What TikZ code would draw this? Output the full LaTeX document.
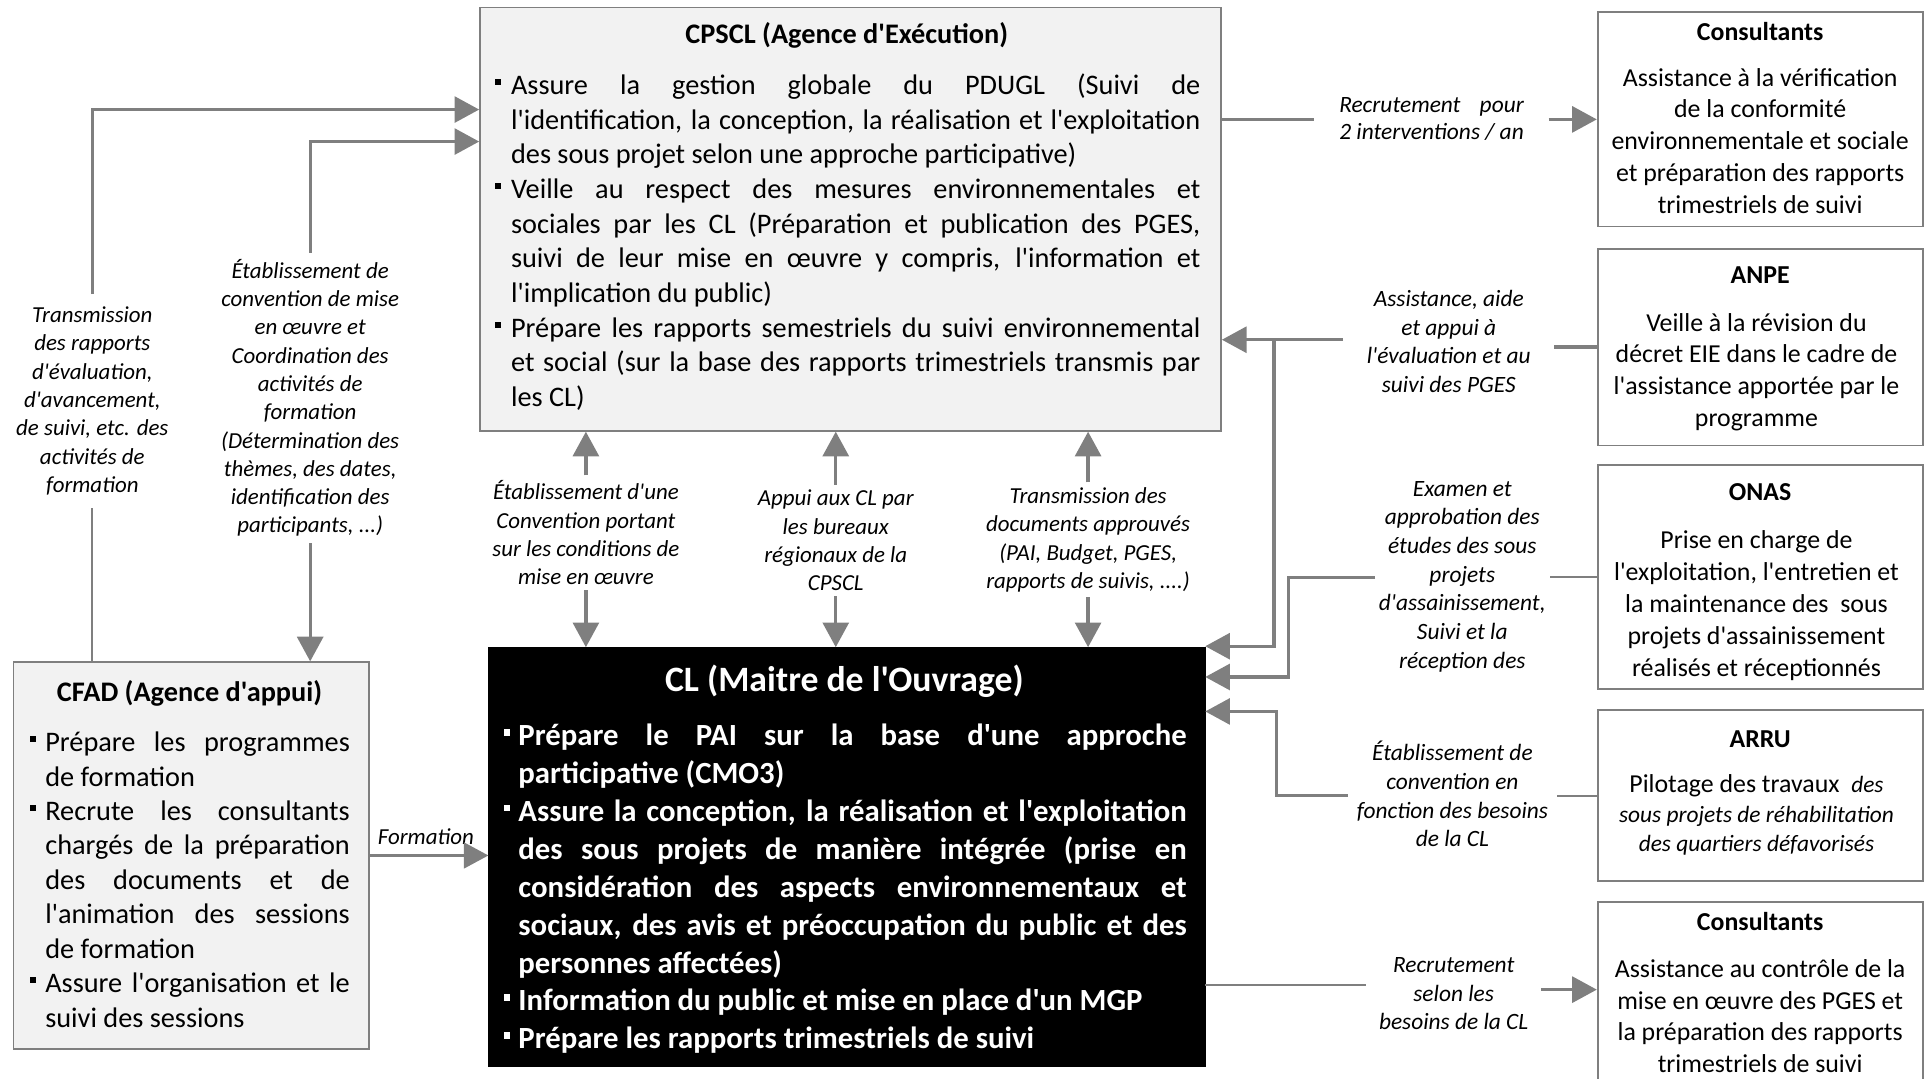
\documentclass[tikz,border=0pt]{standalone}
\usepackage{fontspec}
\setmainfont{Carlito}[Ligatures=TeXOff]
\usetikzlibrary{arrows.meta}
\definecolor{lc}{RGB}{127,127,127}
\definecolor{bx}{RGB}{242,242,242}
\definecolor{bd}{RGB}{127,127,127}
\newlength\rlen
\newcommand\bsq[1]{\rule[0.33em]{#1}{#1}}
\newcommand\bitem[2]{\noindent\hangindent=#1\hangafter=1\makebox[#1][l]{\bsq{0.22em}}#2\par}
\newcommand\jpar{\tolerance=10000\hyphenpenalty=10000\exhyphenpenalty=10000}
\tikzset{
  box/.style={draw=bd, line width=1.4pt, inner sep=0pt},
  gbox/.style={box, fill=bx},
  wbox/.style={box, fill=white},
  kbox/.style={draw=black, fill=black, inner sep=0pt},
  para/.style={anchor=base west, inner sep=0pt, align=justify, text width=#1},
  lab/.style={align=center, inner sep=0pt, anchor=base},
  labL/.style={lab, font=\itshape\fontsize{18.6pt}{23pt}\selectfont},
  labR/.style={lab, font=\itshape\fontsize{19pt}{23.3pt}\selectfont},
  ttl/.style={anchor=base, inner sep=0pt, font=\bfseries\fontsize{21pt}{25pt}\selectfont},
  rbody/.style={lab, font=\fontsize{21pt}{25.8pt}\selectfont},
  tip/.style={-{Triangle[length=20pt,width=21pt]}},
  arr/.style={draw=lc, line width=2.7pt, tip},
  ln/.style={draw=lc, line width=2.7pt},
  thinln/.style={draw=lc, line width=1.4pt},
}
\begin{document}
\begin{tikzpicture}[x=1pt,y=-1pt]
\path[use as bounding box] (0,0) rectangle (1568,876);
\clip (0,0) rectangle (1568,876);

% ---------- boxes ----------
\node[gbox, minimum width=602pt, minimum height=344pt] (cpscl) at (691,178) {};
\node[kbox, minimum width=582pt, minimum height=340pt] (cl) at (688,696) {};
\node[gbox, minimum width=289pt, minimum height=314pt] (cfad) at (155.5,695) {};
\node[wbox, minimum width=264pt, minimum height=174pt] (cons1) at (1430,97) {};
\node[wbox, minimum width=264pt, minimum height=160pt] (anpe) at (1430,282) {};
\node[wbox, minimum width=264pt, minimum height=182pt] (onas) at (1430,469) {};
\node[wbox, minimum width=264pt, minimum height=139pt] (arru) at (1430,646.5) {};
\node[wbox, minimum width=264pt, minimum height=170pt] (cons2) at (1430,818) {};

% ---------- CPSCL ----------
\node[anchor=base, inner sep=0pt, font=\bfseries\fontsize{23pt}{28pt}\selectfont] (cpsclT) at (688,35.6) {CPSCL (Agence d'Exécution)};
\node[para=573pt, font=\fontsize{23pt}{28.2pt}\selectfont\jpar] (cpsclB) at (402,76.6) {%
\bitem{13pt}{Assure la gestion globale du PDUGL (Suivi de\linebreak l'identification, la conception, la réalisation et l'exploitation\linebreak des sous projet selon une approche participative)}%
\bitem{13pt}{Veille au respect des mesures environnementales et\linebreak sociales par les CL (Préparation et publication des PGES,\linebreak suivi de leur mise en œuvre y compris, l'information et\linebreak l'implication du public)}%
\bitem{13pt}{Prépare les rapports semestriels du suivi environnemental\linebreak et social (sur la base des rapports trimestriels transmis par\linebreak les CL)}};

% ---------- CFAD ----------
\node[anchor=base, inner sep=0pt, font=\bfseries\fontsize{23pt}{28pt}\selectfont] (cfadT) at (154,569.6) {CFAD (Agence d'appui)};
\node[para=260pt, font=\fontsize{23pt}{28pt}\selectfont\jpar] (cfadB) at (24,610.6) {%
\bitem{12.6pt}{Prépare les programmes\linebreak de formation}%
\bitem{12.6pt}{Recrute les consultants\linebreak chargés de la préparation\linebreak des documents et de\linebreak l'animation des sessions\linebreak de formation}%
\bitem{12.6pt}{Assure l'organisation et le\linebreak suivi des sessions}};

% ---------- CL ----------
\node[anchor=base, inner sep=0pt, text=white, font=\bfseries\fontsize{29pt}{34pt}\selectfont] (clT) at (686,561.6) {CL (Maitre de l'Ouvrage)};
\node[para=555pt, text=white, font=\bfseries\fontsize{25pt}{30.75pt}\selectfont\jpar] (clB) at (409,606) {%
\bitem{12pt}{Prépare le PAI sur la base d'une approche\linebreak participative (CMO3)}%
\bitem{12pt}{Assure la conception, la réalisation et l'exploitation\linebreak des sous projets de manière intégrée (prise en\linebreak considération des aspects environnementaux et\linebreak sociaux, des avis et préoccupation du public et des\linebreak personnes affectées)}%
\bitem{12pt}{Information du public et mise en place d'un MGP}%
\bitem{12pt}{Prépare les rapports trimestriels de suivi}};

% ---------- right boxes (multi-line nodes: base = last line) ----------
\node[ttl] (cons1T) at (1430,33) {Consultants};
\node[rbody] (cons1B) at (1430,173.2) {Assistance à la vérification\\de la conformité\\environnementale et sociale\\et préparation des rapports\\trimestriels de suivi};
\node[ttl] (anpeT) at (1430,230) {ANPE};
\node[rbody] (anpeB) at (1427,346.4) {Veille à la révision du\\décret EIE dans le cadre de\\l'assistance apportée par le\\programme};
\node[ttl] (onasT) at (1430,407) {ONAS};
\node[rbody] (onasB) at (1427,549.2) {Prise en charge de\\l'exploitation, l'entretien et\\la maintenance des\ \ sous\\projets d'assainissement\\réalisés et réceptionnés};
\node[ttl] (arruT) at (1430,607) {ARRU};
\node[lab, font=\fontsize{21pt}{24pt}\selectfont] (arruB) at (1427,692) {Pilotage des travaux\ \ {\itshape\fontsize{19pt}{24pt}\selectfont des}\\{\itshape\fontsize{19pt}{24pt}\selectfont sous projets de réhabilitation}\\{\itshape\fontsize{19pt}{24pt}\selectfont des quartiers défavorisés}};
\node[ttl] (cons2T) at (1430,756) {Consultants};
\node[rbody] (cons2B) at (1430,871.4) {Assistance au contrôle de la\\mise en œuvre des PGES et\\la préparation des rapports\\trimestriels de suivi};

% ---------- labels ----------
\node[labL, inner ysep=10pt] (lab1) at (75,400) {Transmission\\des rapports\\d'évaluation,\\d'avancement,\\de suivi, etc. des\\activités de\\formation};
\node[labL, inner ysep=5pt] (lab2) at (252,433) {Établissement de\\convention de mise\\en œuvre et\\Coordination des\\activités de\\formation\\(Détermination des\\thèmes, des dates,\\identification des\\participants, ...)};
\node[labL, inner ysep=4pt] (m1) at (476,475) {Établissement d'une\\Convention portant\\sur les conditions de\\mise en œuvre};
\node[labL, inner ysep=4pt] (m2) at (679,480) {Appui aux CL par\\les bureaux\\régionaux de la\\CPSCL};
\node[labL, inner ysep=4pt] (m3) at (884,478) {Transmission des\\documents approuvés\\(PAI, Budget, PGES,\\rapports de suivis, ....)};
\node[labL] (form) at (346,686) {Formation};

\node[labR, inner xsep=20pt, font=\itshape\fontsize{19pt}{22pt}\selectfont] (R1) at (1163,113) {\settowidth{\rlen}{2 interventions / an}\makebox[\rlen][s]{Recrutement\hfill pour}\\2 interventions / an};
\node[labR, inner xsep=19pt] (R2) at (1177,318.9) {Assistance, aide\\et appui à\\l'évaluation et au\\suivi des PGES};
\node[labR, inner xsep=3pt] (R3) at (1188,542.8) {Examen et\\approbation des\\études des sous\\projets\\d'assainissement,\\Suivi et la\\réception des};
\node[labR, inner xsep=7pt] (R4) at (1180,687.9) {Établissement de\\convention en\\fonction des besoins\\de la CL};
\node[labR, inner xsep=10pt] (R5) at (1181,836.6) {Recrutement\\selon les\\besoins de la CL};

% ---------- helper coordinates ----------
\coordinate (yA) at (0,89);
\coordinate (yB) at (0,115);
\coordinate (yC) at (0,276);
\coordinate (yD) at (0,525);
\coordinate (yE) at (0,800);
\coordinate (yF) at (0,804);
\coordinate (jA) at (1035,276);
\coordinate (jB) at (1047,550);
\coordinate (jC) at (1037,578);

% ---------- connectors ----------
% left
\draw[thinln] (cfad.north -| lab1) -- (lab1.south);
\draw[arr] (lab1.north) |- (cpscl.west |- yA);
\draw[arr] (lab2.north) |- (cpscl.west |- yB);
\draw[arr] (lab2.south) -- (cfad.north -| lab2);
\draw[draw=lc, line width=2pt, tip] (cfad.east) -- (cl.west |- cfad.east);
% middle
\foreach \m in {m1,m2,m3}{
  \draw[arr] (\m.north) -- (cpscl.south -| \m);
  \draw[arr] (\m.south) -- (cl.north -| \m);
}
% right
\draw[ln] (cpscl.east |- cons1.west) -- (R1.west |- cons1.west);
\draw[arr] (R1.east |- cons1.west) -- (cons1.west);
\draw[ln] (anpe.west) -- (R2.east |- anpe.west);
\draw[arr] (R2.west |- yC) -- (cpscl.east |- yC);
\draw[arr] (jA) |- (cl.east |- yD);
\draw[thinln] (onas.west) -- (R3.east |- onas.west);
\draw[arr] (R3.west |- onas.west) -| (jB) -- (cl.east |- jB);
\draw[thinln] (arru.west) -- (R4.east |- arru.west);
\draw[arr] (R4.west |- arru.west) -| (jC) -- (cl.east |- jC);
\draw[thinln] (cl.east |- yE) -- (R5.west |- yE);
\draw[arr] (R5.east |- yF) -- (cons2.west |- yF);
\end{tikzpicture}
\end{document}
